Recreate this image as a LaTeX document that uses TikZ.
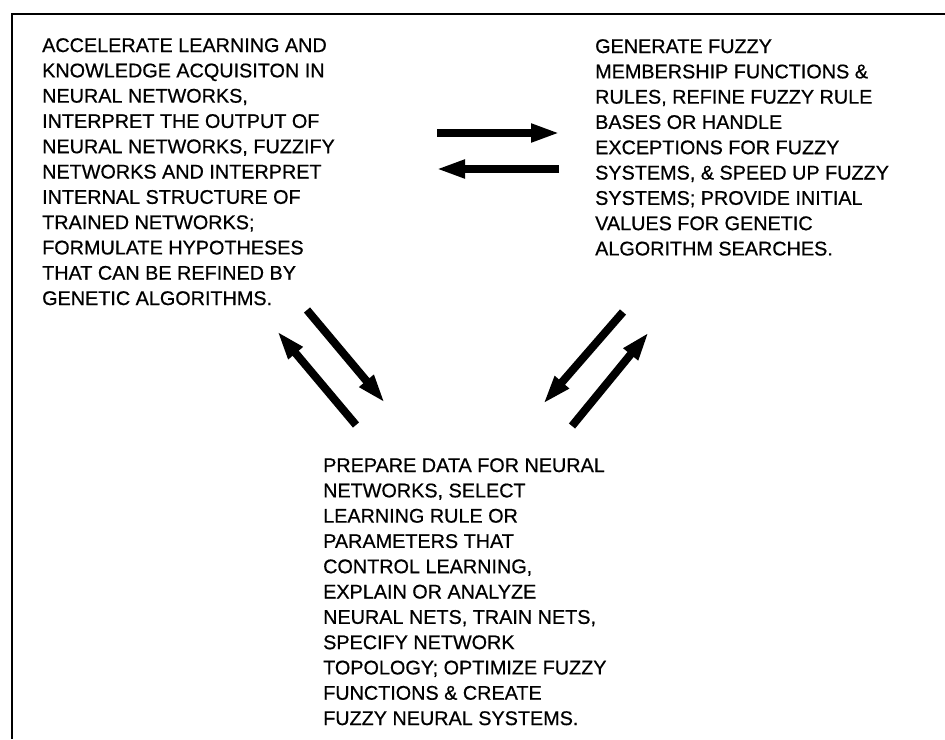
\documentclass[tikz,border=0pt]{standalone}
\usepackage{fontspec}
\setmainfont{Liberation Sans}[RawFeature={embolden=0.6}]
\usetikzlibrary{arrows.meta}
\begin{document}
\begin{tikzpicture}[x=1pt,y=-1pt,
  txt/.style={anchor=north west,inner sep=0pt,align=left,font=\fontsize{19.8}{25.3}\selectfont},
  bigarrow/.style={line width=8pt,-{Triangle[length=29pt,width=17pt]}},
  frameline/.style={line width=2.6pt}]
\useasboundingbox (0,0) rectangle (945,739);
\fill[white] (0,0) rectangle (945,739);
% frame (top and left edges)
\coordinate (fr1) at (945,14);
\coordinate (fr2) at (12,14);
\coordinate (fr3) at (12,739);
\draw[frameline] (fr1) -- (fr2) -- (fr3);
% text blocks
\node[txt] (nn) at (42,38) {ACCELERATE LEARNING AND\\KNOWLEDGE ACQUISITON IN\\NEURAL NETWORKS,\\INTERPRET THE OUTPUT OF\\NEURAL NETWORKS, FUZZIFY\\NETWORKS AND INTERPRET\\INTERNAL STRUCTURE OF\\TRAINED NETWORKS;\\FORMULATE HYPOTHESES\\THAT CAN BE REFINED BY\\GENETIC ALGORITHMS.};
\node[txt] (fz) at (595,39) {GENERATE FUZZY\\MEMBERSHIP FUNCTIONS \&\\RULES, REFINE FUZZY RULE\\BASES OR HANDLE\\EXCEPTIONS FOR FUZZY\\SYSTEMS, \& SPEED UP FUZZY\\SYSTEMS; PROVIDE INITIAL\\VALUES FOR GENETIC\\ALGORITHM SEARCHES.};
\node[txt] (ga) at (323,458) {PREPARE DATA FOR NEURAL\\NETWORKS, SELECT\\LEARNING RULE OR\\PARAMETERS THAT\\CONTROL LEARNING,\\EXPLAIN OR ANALYZE\\NEURAL NETS, TRAIN NETS,\\SPECIFY NETWORK\\TOPOLOGY; OPTIMIZE FUZZY\\FUNCTIONS \& CREATE\\FUZZY NEURAL SYSTEMS.};
% arrow end points
\coordinate (h1s) at (437,133);
\coordinate (h1e) at (560,133);
\coordinate (h2s) at (559,169);
\coordinate (h2e) at (436,169);
\coordinate (l1s) at (307,310);
\coordinate (l1e) at (385,403);
\coordinate (l2s) at (356,425);
\coordinate (l2e) at (277,331);
\coordinate (r1s) at (623,312);
\coordinate (r1e) at (543,404);
\coordinate (r2s) at (572,426);
\coordinate (r2e) at (649,332);
\draw[bigarrow] (h1s) -- (h1e);
\draw[bigarrow] (h2s) -- (h2e);
\draw[bigarrow] (l1s) -- (l1e);
\draw[bigarrow] (l2s) -- (l2e);
\draw[bigarrow] (r1s) -- (r1e);
\draw[bigarrow] (r2s) -- (r2e);
\end{tikzpicture}
\end{document}
